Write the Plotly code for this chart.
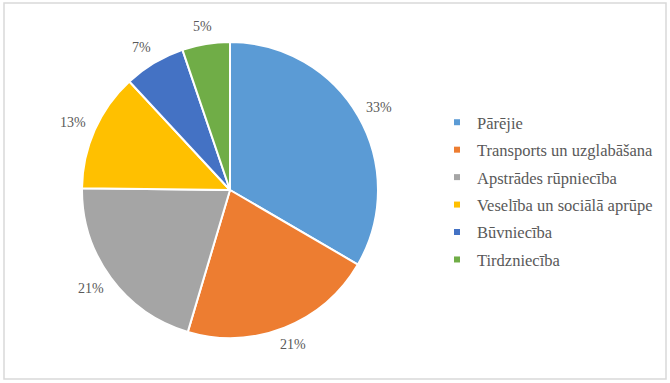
import math
import plotly.graph_objects as go

categories = ["Pārējie", "Transports un uzglabāšana", "Apstrādes rūpniecība",
              "Veselība un sociālā aprūpe", "Būvniecība", "Tirdzniecība"]
values = [33.4, 21.2, 20.6, 12.9, 6.7, 5.2]
colors = ["#5B9BD5", "#ED7D31", "#A5A5A5", "#FFC000", "#4472C4", "#70AD47"]

W, H = 670, 383
FONT = "Liberation Serif"
GREY = "#595959"

# pie geometry (pixels)
CX, CY, R = 230, 190, 148
GAP, HALF_W, HALF_H = 10, 14, 8

fig = go.Figure()
fig.add_trace(go.Pie(
    labels=categories, values=values, sort=False, direction="clockwise", rotation=0,
    marker=dict(colors=colors, line=dict(color="white", width=2)),
    textinfo="none", showlegend=False, hoverinfo="label+percent",
    domain=dict(x=[(CX - R) / W, (CX + R) / W], y=[1 - (CY + R) / H, 1 - (CY - R) / H]),
))

# outside-end percentage labels, placed along each slice's mid angle
total = sum(values)
cum = 0.0
annotations = []
for v in values:
    mid = (cum + v / 2) / total * 2 * math.pi
    cum += v
    dx, dy = math.sin(mid), -math.cos(mid)
    px = CX + (R + GAP + HALF_W) * dx
    py = CY + (R + GAP + HALF_H) * dy
    annotations.append(dict(
        x=px / W, y=1 - py / H, xref="paper", yref="paper",
        text=f"{round(v / total * 100)}%", showarrow=False,
        xanchor="center", yanchor="middle",
        font=dict(family=FONT, size=14, color=GREY),
    ))

for i, (c, col) in enumerate(zip(categories, colors)):
    fig.add_trace(go.Scatter(
        x=[None], y=[None], mode="markers", name=c, legendgroup=f"g{i}",
        marker=dict(symbol="square", size=6, color=col),
    ))

fig.update_layout(
    width=W, height=H, margin=dict(l=0, r=0, t=0, b=0),
    paper_bgcolor="white", plot_bgcolor="white",
    xaxis=dict(visible=False), yaxis=dict(visible=False),
    annotations=annotations,
    legend=dict(x=437 / W, y=1 - 191 / H, xanchor="left", yanchor="middle",
                font=dict(family=FONT, size=16.5, color=GREY),
                traceorder="grouped", tracegroupgap=3, bgcolor="rgba(0,0,0,0)"),
    shapes=[dict(type="rect", xref="paper", yref="paper",
                 x0=4 / W, x1=666 / W, y0=1 - 379 / H, y1=1 - 3 / H,
                 line=dict(color="#D9D9D9", width=1.5), fillcolor="rgba(0,0,0,0)")],
)
fig.write_html("out.html", config={"displayModeBar": False},
               post_script="document.body.style.margin='0';")
